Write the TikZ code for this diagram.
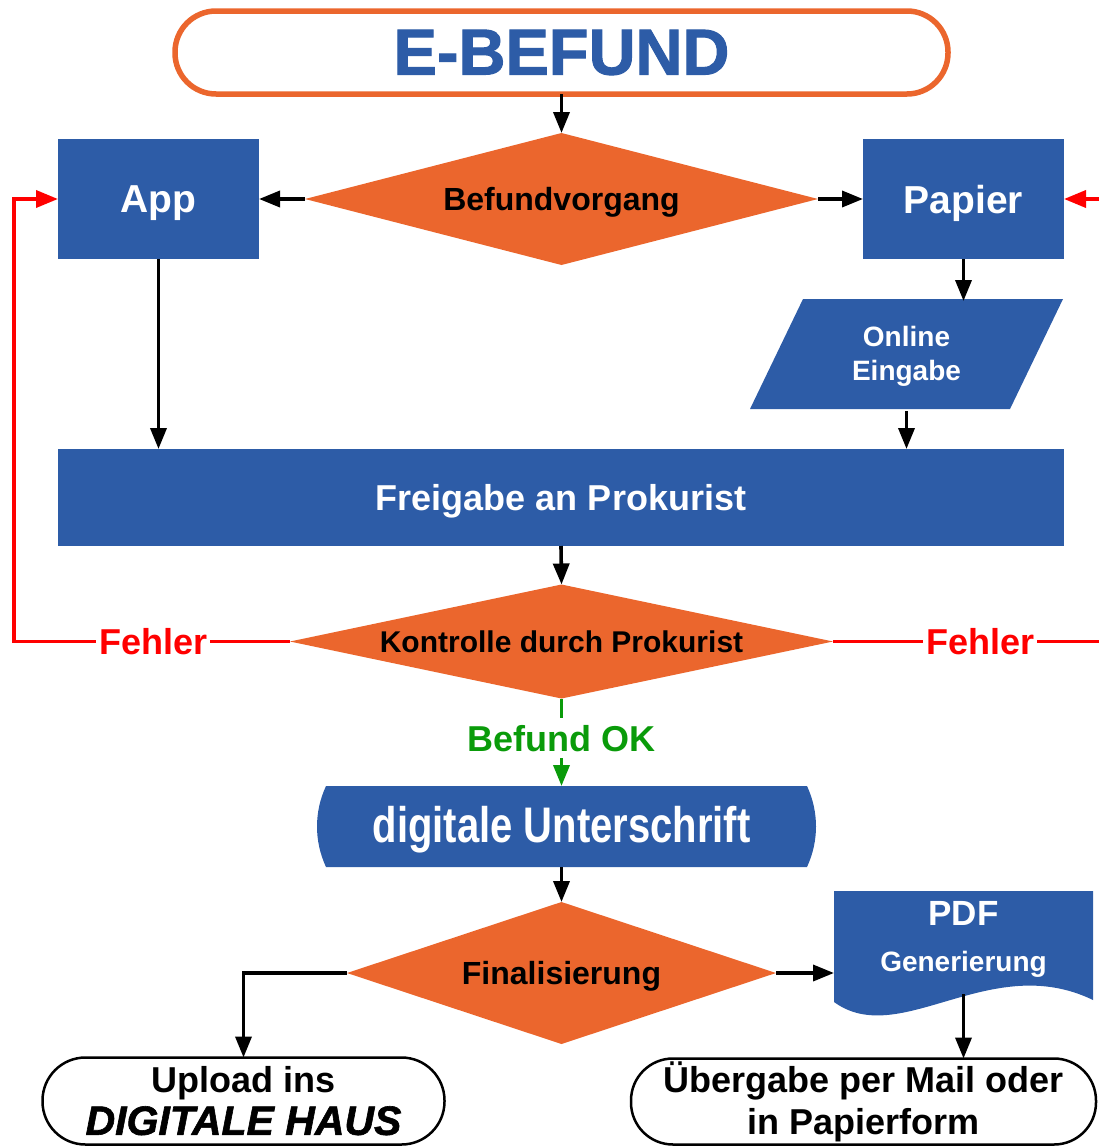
\documentclass[tikz,border=0pt]{standalone}
\usepackage{fontspec}
\setmainfont{Liberation Sans}
\newfontfamily\heavyfont[FakeBold=1.5]{Liberation Sans Bold}
\newfontfamily\heavyitfont[FakeBold=1.5]{Liberation Sans Bold Italic}
\usetikzlibrary{arrows.meta,shapes.geometric,calc}
\definecolor{fblue}{RGB}{45,92,167}
\definecolor{forange}{RGB}{235,102,45}
\definecolor{fred}{RGB}{255,0,0}
\definecolor{fgreen}{RGB}{10,155,10}
\newcommand{\fsz}[1]{\fontsize{#1}{#1}\selectfont}
\begin{document}
\begin{tikzpicture}[x=1pt,y=-1pt,
  every node/.style={inner sep=0pt, outer sep=0pt},
  bluebox/.style={rectangle, fill=fblue, text=white, text depth=0pt, font=\bfseries\fsz{39}},
  decision/.style={diamond, fill=forange, text=black, text depth=0pt, font=\bfseries\fsz{32}},
  terminal/.style={rectangle, draw=black, line width=2.5pt, fill=white, align=center},
  arr/.style={draw=black, line width=3.6pt, -{Triangle[length=21pt,width=16pt]}},
  redline/.style={draw=fred, line width=3.6pt},
  redarr/.style={draw=fred, line width=3.6pt, -{Triangle[length=22pt,width=17pt]}},
  greenarr/.style={draw=fgreen, line width=3.6pt, -{Triangle[length=21pt,width=16pt]}},
  lbl/.style={fill=white, inner sep=3pt, text depth=0pt, font=\bfseries\fsz{36}}
]
\useasboundingbox (0,0) rectangle (1099,1146);

% title
\node[rectangle, draw=forange, line width=5.5pt, fill=white, rounded corners=41,
      minimum width=773, minimum height=83, text=fblue, font=\heavyfont\fsz{65}]
      (title) at (561.5,52.5) {E-BEFUND};

% first decision
\node[decision, minimum width=513, minimum height=132, aspect=3.9] (bef) at (561.5,199) {Befundvorgang};
\node[bluebox, minimum width=201, minimum height=120] (app) at (158.5,199) {App};
\node[bluebox, minimum width=201, minimum height=120] (papier) at (963.5,199) {Papier};

% online input (parallelogram)
\fill[fblue] (803,299) -- (1063,299) -- (1010,409) -- (750,409) -- cycle;
\node[rectangle, minimum width=313, minimum height=110, text=white, align=center,
      font=\bfseries\fontsize{28}{34}\selectfont] (online) at (906.5,356) {Online\\Eingabe};

% approval bar
\node[bluebox, minimum width=1006, minimum height=97, font=\bfseries\fsz{36}] (freigabe) at (561,497.5) {Freigabe an Prokurist};

% control decision
\node[decision, minimum width=543, minimum height=114, aspect=4.7, font=\bfseries\fsz{30}] (kontrolle) at (561.5,641.5) {Kontrolle durch Prokurist};

% digital signature
\fill[fblue] (326,786) -- (807,786) .. controls (819,812) and (819,841) .. (807,867)
  -- (326,867) .. controls (314,841) and (314,812) .. (326,786) -- cycle;
\node[rectangle, minimum width=497, minimum height=81, text=white, text depth=5pt, font=\bfseries\fsz{50}]
  (sig) at (561.5,826.5) {\scalebox{0.8}[1]{digitale Unterschrift}};

% final decision
\node[decision, minimum width=429, minimum height=142, aspect=3] (final) at (561.5,973) {Finalisierung};

% PDF document
\fill[fblue] (834,891) -- (1093,891) -- (1093,1000) .. controls (990,950) and (900,1050) .. (834,1002) -- cycle;
\node[rectangle, minimum width=259, minimum height=103] (pdf) at (963.5,942.5) {};
\node[text=white, text depth=0pt, font=\bfseries\fsz{35}] (pdft) at (963.5,913) {PDF};
\node[text=white, text depth=0pt, font=\bfseries\fsz{28}] (pdfs) at (963.5,961) {Generierung};

% terminals
\node[terminal, rounded corners=43, minimum width=402, minimum height=87,
      font=\bfseries\fontsize{36}{42}\selectfont] (upload) at (243.5,1101)
      {Upload ins\\{\heavyitfont\fontsize{41}{42}\selectfont DIGITALE HAUS}};
\node[terminal, rounded corners=42, minimum width=465, minimum height=86,
      font=\bfseries\fontsize{36}{42}\selectfont] (ueber) at (863.5,1101.5)
      {Übergabe per Mail oder\\in Papierform};

% free ends
\coordinate (redL) at (14,641.5);
\coordinate (redR) at (1099,641.5);
\coordinate (redR2) at (1099,199);

% connectors
\draw[arr] (title.south) -- (bef.north);
\draw[arr] (bef.west) -- (app.east);
\draw[arr] (bef.east) -- (papier.west);
\draw[arr] (papier.south) -- (papier.south |- online.north);
\draw[arr] (app.south) -- (app.south |- freigabe.north);
\draw[arr] (online.south) -- (online.south |- freigabe.north);
\draw[arr] (freigabe.south) -- (kontrolle.north);
\draw[redarr] (kontrolle.west) -- node[lbl, pos=0.496, text=fred] (fehlerL) {Fehler} (redL) |- (app.west);
\draw[redline] (kontrolle.east) -- node[lbl, pos=0.553, text=fred] (fehlerR) {Fehler} (redR);
\draw[redarr] (redR2) -- (papier.east);
\draw[greenarr] (kontrolle.south) -- node[lbl, pos=0.455, text=fgreen, inner sep=7pt] (ok) {Befund OK} (sig.north);
\draw[arr] (sig.south) -- (final.north);
\draw[arr] (final.west) -| (upload.north);
\draw[arr] (final.east) -- (final.east -| pdf.west);
\draw[arr] (pdf.south) -- (pdf.south |- ueber.north);
\end{tikzpicture}
\end{document}
